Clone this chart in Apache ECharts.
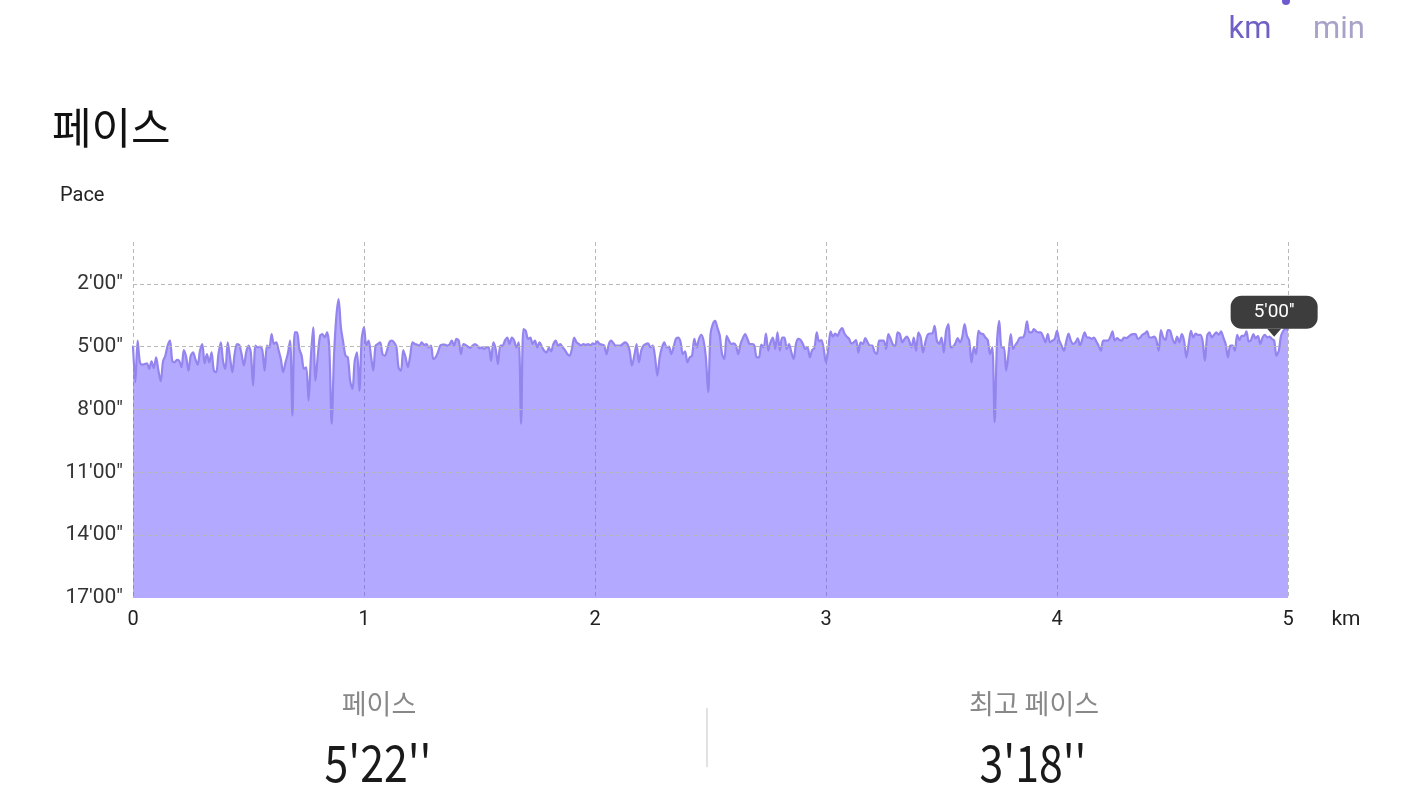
<!DOCTYPE html>
<html>
<head>
<meta charset="utf-8">
<script src="https://cdn.jsdelivr.net/npm/echarts@6/dist/echarts.min.js"></script>
<style>
html,body{margin:0;padding:0;background:#fff;}
#chart{width:1414px;height:798px;}
</style>
</head>
<body>
<div id="chart"></div>
<script>
// Sampling step of the pace profile (km between samples)
const STEP_KM = 0.01;
// Pace (minutes per km), one value per 0.01 km, 0 → 5 km
const paceMin = [
4.95,6.70,4.71,5.75,5.86,5.83,5.79,6.06,5.70,6.02,
5.51,6.14,6.65,5.70,5.43,4.95,4.71,5.67,5.75,5.63,
5.67,5.98,5.16,5.48,6.14,5.43,5.27,5.59,5.86,5.19,
4.87,5.79,5.35,5.75,5.27,6.14,6.22,5.35,4.79,5.70,
6.06,4.79,5.51,6.22,5.35,4.87,4.92,5.35,5.90,5.27,
4.95,5.27,6.86,4.95,5.03,5.00,5.19,6.14,4.95,5.06,
4.40,4.87,4.79,5.16,5.59,6.22,5.75,5.35,4.71,8.29,
4.32,4.32,5.11,5.43,6.06,5.98,7.57,5.51,4.08,6.62,
5.43,4.48,4.40,4.56,4.32,5.11,8.68,5.51,3.60,2.73,
4.08,4.79,5.43,5.51,6.62,7.02,5.67,5.27,7.10,4.63,
4.08,4.95,4.71,5.43,6.14,4.95,4.87,4.79,5.35,5.43,
5.16,4.79,4.71,4.79,5.00,6.02,6.14,5.16,5.51,5.98,
5.43,4.79,4.87,4.90,4.95,4.79,4.92,4.87,5.03,4.95,
5.59,5.51,5.27,4.95,4.90,4.90,4.95,4.90,4.71,4.95,
4.63,4.71,5.35,4.87,4.92,5.00,5.06,4.95,4.87,4.95,
5.08,5.03,5.11,5.03,5.03,5.67,4.79,5.11,5.83,4.95,
4.95,4.71,4.56,4.87,4.56,4.71,5.03,4.79,8.68,4.16,
4.24,4.63,4.56,4.87,4.71,5.03,4.79,5.00,5.19,5.27,
5.06,5.22,4.87,4.71,4.95,4.87,5.03,5.16,5.35,5.43,
5.11,4.56,4.79,4.87,4.95,4.87,4.92,4.87,4.95,4.84,
4.87,4.75,4.87,4.90,4.95,5.35,4.87,4.71,4.84,4.95,
4.95,4.95,4.87,4.79,4.87,5.19,5.90,5.43,4.87,5.75,
5.19,4.95,4.87,4.84,5.03,4.95,5.51,6.38,5.51,5.03,
4.79,5.03,5.00,5.35,5.03,4.63,4.56,4.75,5.35,5.22,
5.75,5.51,5.43,4.63,5.03,4.63,4.43,4.71,5.51,7.17,
4.40,3.92,3.76,4.10,4.45,5.35,5.59,4.48,4.71,4.87,
4.84,4.95,5.35,4.87,4.59,4.40,4.63,4.87,4.87,4.95,
5.51,5.51,4.90,5.03,4.37,5.19,4.79,4.56,5.11,4.32,
5.19,4.56,4.56,5.11,4.87,5.27,5.59,4.87,4.63,4.68,
4.87,5.11,5.03,5.51,5.16,5.06,4.32,4.75,4.68,5.11,
5.75,5.11,4.27,4.52,4.37,4.48,4.24,4.11,4.37,4.52,
4.63,4.84,4.79,4.68,5.27,4.79,4.87,4.59,4.79,4.95,
4.95,5.24,5.35,4.71,4.71,4.71,5.11,4.40,4.63,4.90,
4.95,4.32,4.40,4.79,4.63,4.52,4.71,5.03,4.56,5.19,
4.32,4.56,5.27,4.79,4.43,4.37,4.37,4.00,4.71,4.87,
4.56,5.27,4.24,3.92,5.03,5.00,4.84,4.59,4.79,4.52,
3.92,4.48,4.71,5.75,5.03,5.35,4.24,4.37,4.40,4.56,
4.68,5.35,5.03,8.60,4.87,3.76,5.03,5.03,6.14,5.35,
4.40,5.11,4.92,4.75,4.56,4.56,4.40,3.79,4.32,4.32,
4.16,4.27,4.32,4.32,4.52,4.79,4.40,4.79,4.71,4.63,
4.24,4.71,4.95,5.19,4.75,4.37,4.71,4.87,4.79,4.60,
4.95,4.63,4.32,4.56,4.56,4.63,4.56,4.75,4.95,5.19,
4.71,4.71,4.71,4.56,4.27,4.71,4.59,4.68,4.71,4.56,
4.59,4.52,4.43,4.40,4.40,4.63,4.56,4.43,4.37,4.27,
4.56,4.56,4.52,4.68,5.19,4.21,4.56,4.68,4.21,4.24,
4.63,4.84,4.52,4.79,4.40,4.71,5.51,4.87,4.24,4.56,
4.37,4.44,4.43,4.71,5.67,4.48,4.32,4.56,4.43,4.32,
4.43,4.27,4.56,4.87,5.51,4.95,4.95,5.19,4.43,4.68,
4.48,4.48,4.27,4.75,4.68,4.40,4.60,4.49,4.87,4.56,
4.43,4.56,4.52,4.63,4.71,5.43,5.19,4.48,4.24,4.11,
4.24
];
// Axis ranges & tick labels
const xTicksKm = [0, 1, 2, 3, 4, 5];
const yTicksMin = [2, 5, 8, 11, 14, 17];
const yRange = [0, 17];
// Highlighted point (tooltip)
const tipPoint = [4.94, 4.52];
const tipLabel = "5'00''";
// Summary numbers
const avgPaceLabel = "5'22''";
const bestPaceLabel = "3'18''";

const seriesData = paceMin.map((p, i) => [+(i * STEP_KM).toFixed(2), p]);

const chart = echarts.init(document.getElementById('chart'), null, {renderer: 'canvas'});
const FONT = 'Roboto, "Noto Sans CJK KR", sans-serif';
const KFONT = '"Noto Sans CJK KR", "Noto Sans", sans-serif';

chart.setOption({
  animation: false,
  backgroundColor: '#ffffff',
  grid: {left: 133, right: 126, top: 242, bottom: 200, containLabel: false},
  xAxis: {
    type: 'value', min: xTicksKm[0], max: xTicksKm[xTicksKm.length - 1], interval: 1,
    axisLine: {show: false}, axisTick: {show: false},
    axisLabel: {fontSize: 20, color: '#222', margin: 12, fontFamily: FONT},
    splitLine: {show: true, lineStyle: {type: [4, 3], color: '#b8b8b8', width: 1}}
  },
  yAxis: {
    type: 'value', inverse: true, min: yRange[0], max: yRange[1], interval: 1,
    axisLine: {show: false}, axisTick: {show: false},
    splitLine: {show: false},
    axisLabel: {
      fontSize: 21, color: '#333', margin: 10, fontFamily: FONT,
      customValues: yTicksMin,
      formatter: v => yTicksMin.includes(v) ? v + "'00\"" : ''
    }
  },
  series: [
    {
      type: 'line', data: [], z: 1, silent: true,
      markLine: {
        silent: true, symbol: 'none', label: {show: false},
        lineStyle: {type: [4, 3], color: '#b8b8b8', width: 1},
        data: yTicksMin.slice(0, -1).map(v => ({yAxis: v}))
      }
    },
    {
      type: 'line', data: seriesData, z: 3,
      showSymbol: false, smooth: 0.3,
      lineStyle: {color: '#9384ee', width: 2.2},
      areaStyle: {color: 'rgba(100,80,255,0.49)', opacity: 1, origin: 'end'},
      markPoint: {
        silent: true,
        data: [{
          coord: tipPoint,
          symbol: 'triangle', symbolRotate: 180, symbolSize: [14, 8], symbolOffset: [0, -4],
          itemStyle: {color: '#3d3d3d'},
          label: {
            show: true, position: 'top', distance: 0,
            formatter: tipLabel, color: '#fff', fontSize: 19, fontFamily: FONT,
            backgroundColor: '#3d3d3d', borderRadius: 11, padding: [7, 23, 7, 23]
          }
        }]
      }
    }
  ],
  graphic: [
    {type: 'circle', shape: {cx: 1286, cy: 1, r: 4}, style: {fill: '#6c5cd0'}},
    {type: 'text', x: 1250, y: 30, style: {text: 'km', fontSize: 31, fill: '#6e60c4', fontFamily: FONT, textAlign: 'center', textVerticalAlign: 'middle'}},
    {type: 'text', x: 1339, y: 30, style: {text: 'min', fontSize: 31, fill: '#a7a2c8', fontFamily: FONT, textAlign: 'center', textVerticalAlign: 'middle'}},
    {type: 'text', x: 52, y: 128, style: {text: '페이스', fontSize: 43, fill: '#111', fontFamily: KFONT, textAlign: 'left', textVerticalAlign: 'middle'}},
    {type: 'text', x: 60, y: 196, style: {text: 'Pace', fontSize: 20, fill: '#222', fontFamily: FONT, textAlign: 'left', textVerticalAlign: 'middle'}},
    {type: 'text', x: 1346, y: 620, style: {text: 'km', fontSize: 21, fill: '#222', fontFamily: FONT, textAlign: 'center', textVerticalAlign: 'middle'}},
    {type: 'text', x: 379, y: 704, style: {text: '페이스', fontSize: 27, fill: '#888', fontFamily: KFONT, textAlign: 'center', textVerticalAlign: 'middle'}},
    {type: 'text', x: 378, y: 763, scaleX: 0.84, style: {text: avgPaceLabel, fontSize: 51, fill: '#1a1a1a', fontFamily: KFONT, textAlign: 'center', textVerticalAlign: 'middle'}},
    {type: 'line', shape: {x1: 707, y1: 708, x2: 707, y2: 767}, style: {stroke: '#e2e2e2', lineWidth: 2}},
    {type: 'text', x: 1034, y: 704, style: {text: '최고 페이스', fontSize: 27, fill: '#888', fontFamily: KFONT, textAlign: 'center', textVerticalAlign: 'middle'}},
    {type: 'text', x: 1033, y: 763, scaleX: 0.84, style: {text: bestPaceLabel, fontSize: 51, fill: '#1a1a1a', fontFamily: KFONT, textAlign: 'center', textVerticalAlign: 'middle'}}
  ]
});
</script>
</body>
</html>
